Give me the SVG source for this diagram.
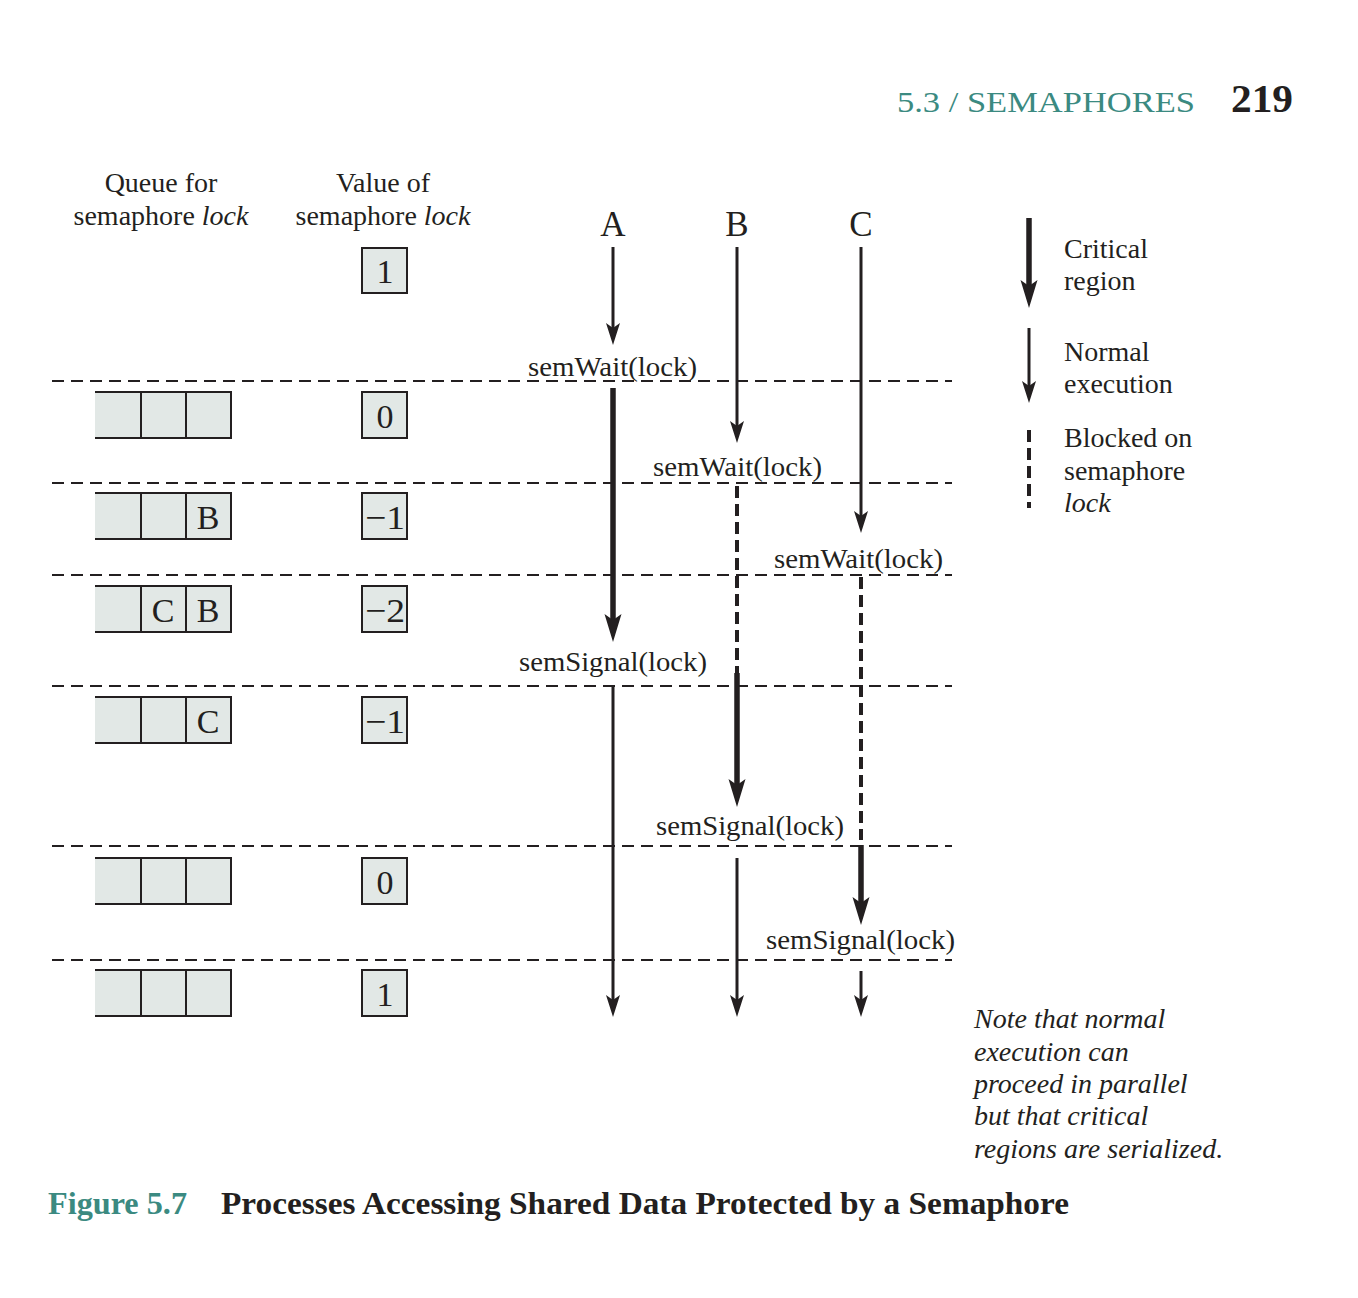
<svg xmlns="http://www.w3.org/2000/svg" width="1358" height="1298" viewBox="0 0 1358 1298">
<style>
text{font-family:"Liberation Serif","Times New Roman",serif;fill:#231f20}
.t{font-size:28px}
.c{text-anchor:middle}
.it{font-style:italic}
.lbl{font-size:35px;text-anchor:middle}
.num{font-size:34px;text-anchor:middle}
.teal{fill:#3b8a81}
.box{fill:#e2e8e6;stroke:#231f20;stroke-width:2}
.qline{stroke:#231f20;stroke-width:2;fill:none}
.hd{stroke:#231f20;stroke-width:2;stroke-dasharray:12 7;fill:none}
.n{stroke:#231f20;stroke-width:3;fill:none}
.k{stroke:#231f20;stroke-width:5.5;fill:none}
.b{stroke:#231f20;stroke-width:4;stroke-dasharray:12 6;fill:none}
</style>
<defs>
<marker id="an" markerUnits="userSpaceOnUse" orient="auto" refX="0" refY="0" markerWidth="40" markerHeight="40" overflow="visible">
<path d="M12,0 L-10,-7 L-5,0 L-10,7 Z" fill="#231f20"/>
</marker>
<marker id="ak" markerUnits="userSpaceOnUse" orient="auto" refX="0" refY="0" markerWidth="40" markerHeight="40" overflow="visible">
<path d="M14,0 L-14,-8.5 L-8,0 L-14,8.5 Z" fill="#231f20"/>
</marker>
<g id="q">
<path class="box" d="M95,0 H231 V46 H95" />
<path class="qline" d="M95,0 H231 V46 H95 M141,0 V46 M186,0 V46"/>
</g>
</defs>

<g id="header">
<text x="897" y="112" font-size="30" class="teal" textLength="298" lengthAdjust="spacingAndGlyphs">5.3 / SEMAPHORES</text>
<text x="1231" y="112" font-size="40" font-weight="bold" textLength="62" lengthAdjust="spacingAndGlyphs">219</text>
</g>

<g id="col-headers">
<text class="t c" x="161" y="192">Queue for</text>
<text class="t c" x="161" y="225">semaphore <tspan class="it">lock</tspan></text>
<text class="t c" x="383" y="192">Value of</text>
<text class="t c" x="383" y="225">semaphore <tspan class="it">lock</tspan></text>
</g>

<g id="process-labels">
<text class="lbl" x="613" y="236">A</text>
<text class="lbl" x="737" y="236">B</text>
<text class="lbl" x="861" y="236">C</text>
</g>

<g id="dividers">
<line class="hd" x1="52" y1="381" x2="952" y2="381"/>
<line class="hd" x1="52" y1="483" x2="952" y2="483"/>
<line class="hd" x1="52" y1="575" x2="952" y2="575"/>
<line class="hd" x1="52" y1="686" x2="952" y2="686"/>
<line class="hd" x1="52" y1="846" x2="952" y2="846"/>
<line class="hd" x1="52" y1="960" x2="952" y2="960"/>
</g>

<g id="queues">
<g id="queue1"><use href="#q" y="392"/></g>
<g id="queue2"><use href="#q" y="493"/><text class="num" x="208" y="529">B</text></g>
<g id="queue3"><use href="#q" y="586"/><text class="num" x="163" y="622">C</text><text class="num" x="208" y="622">B</text></g>
<g id="queue4"><use href="#q" y="697"/><text class="num" x="208" y="733">C</text></g>
<g id="queue5"><use href="#q" y="858"/></g>
<g id="queue6"><use href="#q" y="970"/></g>
</g>

<g id="values">
<g id="value0"><rect class="box" x="362" y="248" width="45" height="45"/><text class="num" x="385" y="283">1</text></g>
<g id="value1"><rect class="box" x="362" y="392" width="45" height="46"/><text class="num" x="385" y="428">0</text></g>
<g id="value2"><rect class="box" x="362" y="493" width="45" height="46"/><text class="num" x="385" y="529" textLength="40" lengthAdjust="spacingAndGlyphs">−1</text></g>
<g id="value3"><rect class="box" x="362" y="586" width="45" height="46"/><text class="num" x="385" y="622" textLength="40" lengthAdjust="spacingAndGlyphs">−2</text></g>
<g id="value4"><rect class="box" x="362" y="697" width="45" height="46"/><text class="num" x="385" y="733" textLength="40" lengthAdjust="spacingAndGlyphs">−1</text></g>
<g id="value5"><rect class="box" x="362" y="858" width="45" height="46"/><text class="num" x="385" y="894">0</text></g>
<g id="value6"><rect class="box" x="362" y="970" width="45" height="46"/><text class="num" x="385" y="1006">1</text></g>
</g>

<g id="connectors">
<line class="n" x1="613" y1="247" x2="613" y2="333" marker-end="url(#an)"/>
<line class="k" x1="613" y1="388" x2="613" y2="628" marker-end="url(#ak)"/>
<line class="n" x1="613" y1="687" x2="613" y2="1005" marker-end="url(#an)"/>
<line class="n" x1="737" y1="247" x2="737" y2="431" marker-end="url(#an)"/>
<line class="b" x1="737" y1="486" x2="737" y2="673"/>
<line class="k" x1="737" y1="673" x2="737" y2="793" marker-end="url(#ak)"/>
<line class="n" x1="737" y1="858" x2="737" y2="1005" marker-end="url(#an)"/>
<line class="n" x1="861" y1="247" x2="861" y2="521" marker-end="url(#an)"/>
<line class="b" x1="861" y1="577" x2="861" y2="840"/>
<line class="k" x1="861" y1="845" x2="861" y2="911" marker-end="url(#ak)"/>
<line class="n" x1="861" y1="971" x2="861" y2="1005" marker-end="url(#an)"/>
</g>

<g id="calls">
<text class="t" x="528" y="376" textLength="169" lengthAdjust="spacingAndGlyphs">semWait(lock)</text>
<text class="t" x="653" y="476" textLength="169" lengthAdjust="spacingAndGlyphs">semWait(lock)</text>
<text class="t" x="774" y="568" textLength="169" lengthAdjust="spacingAndGlyphs">semWait(lock)</text>
<text class="t" x="519" y="671" textLength="188" lengthAdjust="spacingAndGlyphs">semSignal(lock)</text>
<text class="t" x="656" y="835" textLength="188" lengthAdjust="spacingAndGlyphs">semSignal(lock)</text>
<text class="t" x="766" y="949" textLength="189" lengthAdjust="spacingAndGlyphs">semSignal(lock)</text>
</g>

<g id="legend">
<line class="k" x1="1029" y1="218" x2="1029" y2="294" marker-end="url(#ak)"/>
<line class="n" x1="1029" y1="328" x2="1029" y2="391" marker-end="url(#an)"/>
<line class="b" x1="1029" y1="430" x2="1029" y2="508"/>
<text class="t" x="1064" y="258">Critical</text>
<text class="t" x="1064" y="290">region</text>
<text class="t" x="1064" y="361">Normal</text>
<text class="t" x="1064" y="393">execution</text>
<text class="t" x="1064" y="447">Blocked on</text>
<text class="t" x="1064" y="480">semaphore</text>
<text class="t it" x="1064" y="512">lock</text>
</g>

<g id="note">
<text class="t it" x="974" y="1028">Note that normal</text>
<text class="t it" x="974" y="1061">execution can</text>
<text class="t it" x="974" y="1093">proceed in parallel</text>
<text class="t it" x="974" y="1125">but that critical</text>
<text class="t it" x="974" y="1158">regions are serialized.</text>
</g>

<g id="caption">
<text x="48" y="1214" font-size="32" font-weight="bold" class="teal" textLength="139" lengthAdjust="spacingAndGlyphs">Figure 5.7</text>
<text x="221" y="1214" font-size="32" font-weight="bold" textLength="848" lengthAdjust="spacingAndGlyphs">Processes Accessing Shared Data Protected by a Semaphore</text>
</g>
</svg>
